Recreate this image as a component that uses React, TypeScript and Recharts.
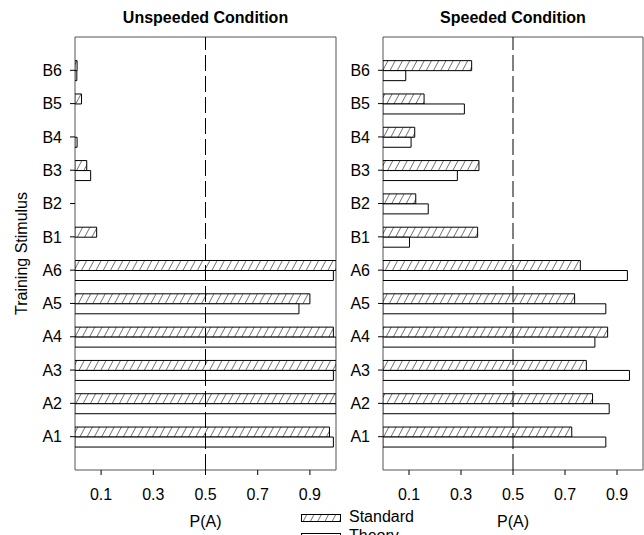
import { Bar, BarChart, ReferenceArea, ReferenceLine, XAxis, YAxis } from "recharts";

const stimuli = ["A1", "A2", "A3", "A4", "A5", "A6", "B1", "B2", "B3", "B4", "B5", "B6"];

const unspeededStandard = [0.975, 1.0, 1.0, 0.99, 0.9, 1.0, 0.083, 0, 0.045, 0, 0.025, 0.008];
const unspeededTheory = [0.99, 1.0, 0.99, 1.0, 0.858, 0.99, 0, 0, 0.06, 0.008, 0, 0.007];

const speededStandard = [0.726, 0.806, 0.782, 0.864, 0.737, 0.759, 0.364, 0.126, 0.369, 0.122, 0.158, 0.341];
const speededTheory = [0.857, 0.87, 0.948, 0.815, 0.857, 0.94, 0.102, 0.174, 0.286, 0.108, 0.313, 0.0875];

const xTicks = [0.1, 0.3, 0.5, 0.7, 0.9];
const yTicks = stimuli.map((_, i) => i + 1);

const FONT = '"Liberation Sans", Arial, Helvetica, sans-serif';
const tickStyle = { fill: "#000", fontSize: 16, fontFamily: FONT };

// diagonal "/" hatch, a bit steeper than 45 degrees like the original
function Hatch({ id }: { id: string }) {
  return (
    <pattern id={id} width={6.4} height={6.4} patternUnits="userSpaceOnUse" patternTransform="rotate(28)">
      <rect width={6.4} height={6.4} fill="#fff" />
      <line x1={0} y1={0} x2={0} y2={6.4} stroke="#000" strokeWidth={1} />
    </pattern>
  );
}

type PanelProps = {
  standard: number[];
  theory: number[];
  width: number;
  axisWidth: number;
  marginRight: number;
  patternId: string;
};

function Panel({ standard, theory, width, axisWidth, marginRight, patternId }: PanelProps) {
  const data = stimuli.map((name, i) => ({
    name,
    pos: i + 1,
    standard: standard[i],
    theory: theory[i],
  }));
  return (
    <BarChart
      width={width}
      height={535}
      data={data}
      layout="vertical"
      margin={{ top: 37, right: marginRight, bottom: 0, left: 0 }}
      barGap={0}
      barSize={10}
    >
      <defs>
        <Hatch id={patternId} />
      </defs>
      <XAxis
        type="number"
        domain={[0, 1]}
        allowDataOverflow
        ticks={xTicks}
        tickFormatter={(v: number) => v.toFixed(1)}
        height={65}
        axisLine={false}
        tickLine={{ stroke: "#000" }}
        tickSize={5}
        tickMargin={14}
        tick={tickStyle}
        label={{ value: "P(A)", position: "insideBottom", offset: 8, fill: "#000", fontSize: 16, fontFamily: FONT }}
      />
      <YAxis
        type="number"
        dataKey="pos"
        domain={[0, 13]}
        allowDataOverflow
        reversed
        ticks={yTicks}
        interval={0}
        tickFormatter={(v: number) => stimuli[v - 1] ?? ""}
        width={axisWidth}
        axisLine={false}
        tickLine={{ stroke: "#000" }}
        tickSize={5}
        tickMargin={8}
        tick={tickStyle}
      />
      <ReferenceArea x1={0} x2={1} y1={0} y2={13} fill="none" stroke="#555" strokeWidth={1} />
      <Bar dataKey="standard" fill={`url(#${patternId})`} stroke="#000" strokeWidth={1} isAnimationActive={false} />
      <Bar dataKey="theory" fill="#fff" stroke="#000" strokeWidth={1} isAnimationActive={false} />
      <ReferenceLine x={0.5} stroke="#000" strokeWidth={1} strokeDasharray="16 5" />
    </BarChart>
  );
}

export default function App() {
  return (
    <div style={{ position: "absolute", left: 0, top: 0, width: 644, height: 535, overflow: "hidden", background: "#fff" }}>
      <div style={{ position: "absolute", left: 0, top: 0 }}>
        <Panel standard={unspeededStandard} theory={unspeededTheory} width={340} axisWidth={75} marginRight={4} patternId="hatchU" />
      </div>
      <div style={{ position: "absolute", left: 340, top: 0 }}>
        <Panel standard={speededStandard} theory={speededTheory} width={304} axisWidth={43} marginRight={1} patternId="hatchS" />
      </div>
      <svg width={644} height={535} style={{ position: "absolute", left: 0, top: 0, pointerEvents: "none" }} fontFamily={FONT}>
        <defs>
          <Hatch id="hatchLegend" />
        </defs>
        <text x={205.5} y={23} textAnchor="middle" fontSize={16} fontWeight="bold" fill="#000">
          Unspeeded Condition
        </text>
        <text x={513} y={23} textAnchor="middle" fontSize={16} fontWeight="bold" fill="#000">
          Speeded Condition
        </text>
        <text x={27} y={253.5} textAnchor="middle" fontSize={16} fill="#000" transform="rotate(-90, 27, 253.5)">
          Training Stimulus
        </text>
        <rect x={301.5} y={514.5} width={39} height={7} fill="url(#hatchLegend)" stroke="#000" />
        <text x={349} y={522} fontSize={16} fill="#000">Standard</text>
        <rect x={301.5} y={533.5} width={39} height={7} fill="#fff" stroke="#000" />
        <text x={349} y={541} fontSize={16} fill="#000">Theory</text>
      </svg>
    </div>
  );
}
